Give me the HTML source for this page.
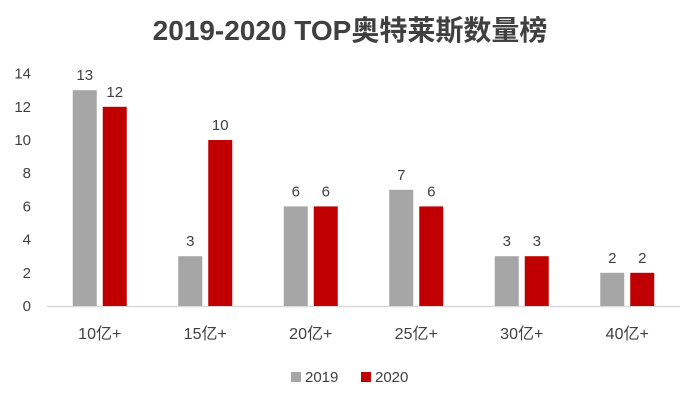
<!DOCTYPE html>
<html><head><meta charset="utf-8"><style>
body{margin:0;background:#fff;}
svg text{font-family:"Liberation Sans","Noto Sans CJK SC",sans-serif;}
</style></head><body>
<svg width="700" height="407" xmlns="http://www.w3.org/2000/svg">
<rect width="700" height="407" fill="#fff"/>
<text x="350" y="40" text-anchor="middle" font-size="28" font-weight="bold" fill="#404040">2019-2020 TOP奥特莱斯数量榜</text>
<g id="plot"></g>
<g>
<rect x="291" y="372" width="10" height="10" fill="#a6a6a6"/>
<text x="305" y="382" font-size="15" fill="#404040">2019</text>
<rect x="361" y="372" width="10" height="10" fill="#c00000"/>
<text x="375" y="382" font-size="15" fill="#404040">2020</text>
</g>
</svg>
<script>
const categories=["10亿+","15亿+","20亿+","25亿+","30亿+","40亿+"];
const values2019=[13,3,6,7,3,2];
const values2020=[12,10,6,6,3,2];
const yTicks=[0,2,4,6,8,10,12,14];
const NS="http://www.w3.org/2000/svg";
const g=document.getElementById("plot");
const x0=47,x1=680,yBase=306,unit=16.6;
const bw=(x1-x0)/categories.length;
function y(v){return yBase-v*unit;}
function cx(i){return x0+bw*(i+0.5);}
function mk(t,a){const e=document.createElementNS(NS,t);for(const k in a)e.setAttribute(k,a[k]);g.appendChild(e);return e;}
yTicks.forEach(t=>{
 const e=mk("text",{x:31,y:y(t)+5,"text-anchor":"end","font-size":"15",fill:"#404040"});
 e.textContent=t;
 
 
});
const ax=mk("line",{x1:x0,x2:x1,y1:yBase+0.5,y2:yBase+0.5,stroke:"#d9d9d9","stroke-width":"1.5"});


categories.forEach((c,i)=>{
 const c0=cx(i);
 [[values2019[i],"#a6a6a6",c0-27,"bar-2019"],[values2020[i],"#c00000",c0+3,"bar-2020"]].forEach(([v,col,bx,nm])=>{
  const r=mk("rect",{x:bx,y:y(v),width:24,height:v*unit,fill:col});
  
  
  const l=mk("text",{x:bx+12,y:y(v)-10,"text-anchor":"middle","font-size":"15",fill:"#404040"});
  l.textContent=v;
  
  
 });
 const t=mk("text",{x:c0,y:339,"text-anchor":"middle","font-size":"16",fill:"#404040"});
 t.textContent=c;
 
 
});
</script>
</body></html>
